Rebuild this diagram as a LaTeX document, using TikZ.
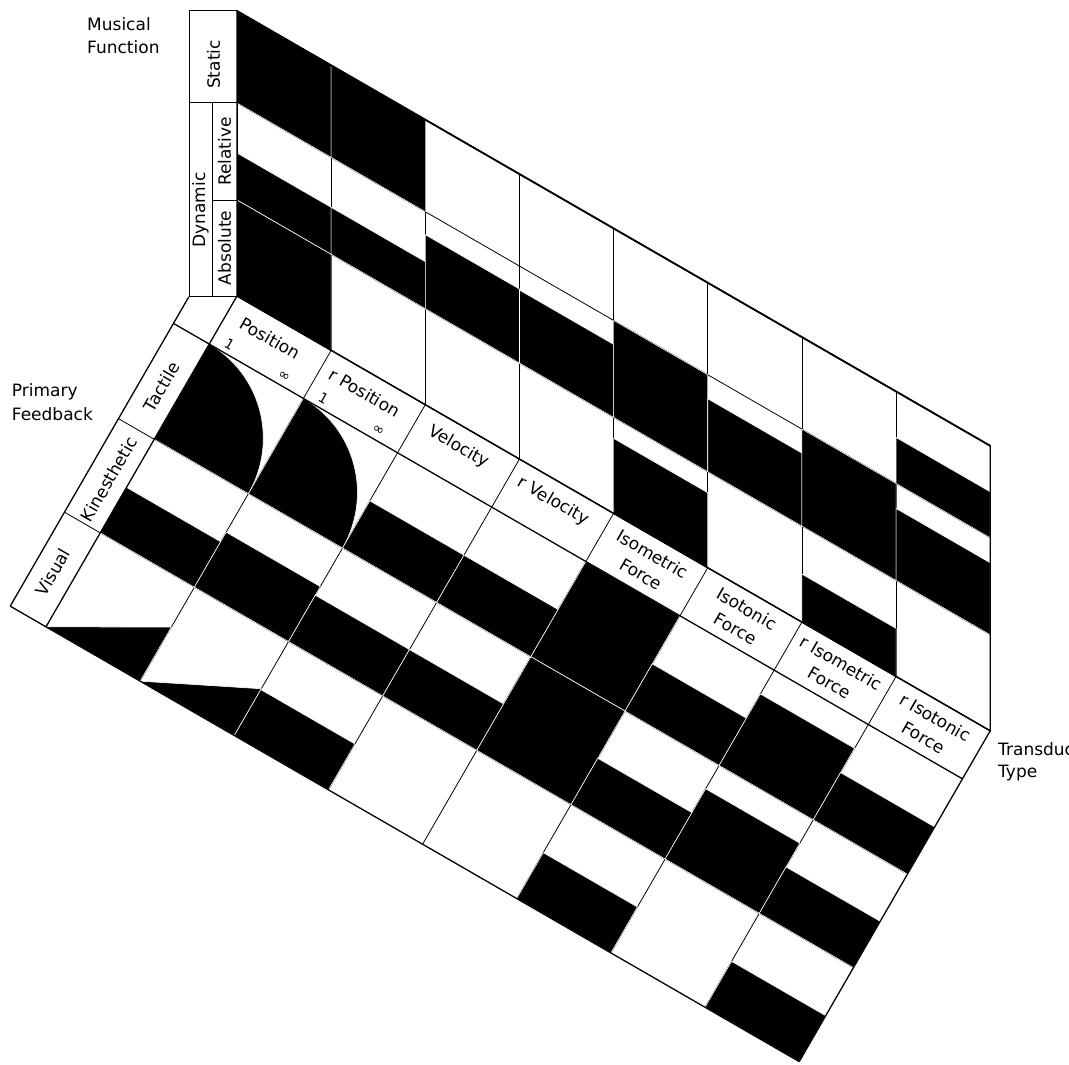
\documentclass[tikz,border=0pt]{standalone}
\usepackage{fontspec}
\setmainfont{DejaVu Sans}
\begin{document}
\begin{tikzpicture}[x=1pt,y=-1pt,
  gridline/.style={line width=0.8pt},
  frameline/.style={line width=1.3pt, line join=miter},
  boxline/.style={line width=1pt},
  blk/.style={fill=black, draw=white, line width=0.6pt},
  lbl/.style={font=\fontsize{17}{23}\selectfont, inner sep=0pt},
  tiny/.style={font=\fontsize{14}{16}\selectfont, inner sep=0pt},
]
\useasboundingbox (0,0) rectangle (1069,1065);
\clip (0,0) rectangle (1069,1065);
\fill[white] (0,0) rectangle (1069,1065);

% ---------------- wall (musical function) ----------------
\begin{scope}[shift={(237pt,-11pt)}, x={(94.15pt,-54.35pt)}, y={(0pt,-1pt)}]
  \foreach \ka in {1,...,7} \draw[gridline] (\ka,0) -- (\ka,285);
  \draw[gridline] (0,92) -- (8,92);
  \draw[gridline] (0,189) -- (8,189);
  \foreach \ka/\kb/\kc in {0/0/92, 0/142/189, 0/189/285,
                           1/0/92, 1/142/189,
                           2/115/189, 3/116/189,
                           4/92/189, 4/210/285,
                           5/116/189,
                           6/92/189, 6/237/285,
                           7/46/92, 7/117/189}
    \path[blk] (\ka,\kb) -- ({\ka+1},\kb) -- ({\ka+1},\kc) -- (\ka,\kc) -- cycle;
  \draw[frameline] (0,0) -- (8,0) -- (8,285) -- (0,285) -- cycle;
  \draw[line width=1.8pt] (0,0) -- (8,0);
\end{scope}

% wall label column
\draw[boxline] (189,11) rectangle (237,296);
\draw[boxline] (189,103) -- (237,103);
\draw[boxline] (212,103) -- (212,296);
\draw[boxline] (212,200) -- (237,200);

% ---------------- floor (primary feedback) ----------------
\begin{scope}[shift={(237pt,-296pt)}, x={(94.15pt,-54.35pt)}, y={(-0.5pt,-0.866pt)}]
  \foreach \ka in {1,...,7} \draw[gridline] (\ka,0) -- (\ka,382);
  \draw[gridline] (-0.38,165.5) -- (8,165.5);
  \draw[gridline] (-0.38,273.5) -- (8,273.5);
  % quarter discs (Position, r Position / Tactile)
  \foreach \ka in {0,1}
    \path[blk] (\ka,165.5) -- (\ka,55.5)
      -- plot[variable=\t, domain=0:90, samples=45] ({\ka+sin(\t)},{165.5-110*cos(\t)})
      -- cycle;
  % triangles (Visual)
  \path[blk] (0,382) -- (1,319.6) -- (1,382) -- cycle;
  \path[blk] (1,382) -- (2,328) -- (2,382) -- cycle;
  % bands
  \foreach \ka/\kb/\kc in {0/221/273.5, 1/210/273.5,
                           2/111/165.5, 2/220/273.5, 2/329/382,
                           3/111/165.5, 3/220/273.5,
                           4/55.5/165.5, 4/165.5/273.5,
                           5/111/165.5, 5/220/273.5, 5/329/382,
                           6/83/165.5, 6/192.5/273.5,
                           7/111/165.5, 7/220/273.5, 7/329/382}
    \path[blk] (\ka,\kb) -- ({\ka+1},\kb) -- ({\ka+1},\kc) -- (\ka,\kc) -- cycle;
  % frame
  \draw[frameline] (0,0) -- (0,382);
  \draw[frameline] (8,0) -- (8,382);
  \draw[frameline] (-0.38,55.5) -- (8,55.5);
  \draw[frameline] (-0.38,382) -- (8,382);
  \draw[frameline] (-0.38,24.8) -- (-0.38,382);
  \draw[frameline] (0,0) -- (8,0);
\end{scope}

% ---------------- texts ----------------
\node[lbl, anchor=base west] (mf1) at (87,30.7) {Musical};
\node[lbl, anchor=base west] (mf2) at (87,54) {Function};
\node[lbl, anchor=base west] (pf1) at (11.7,396.7) {Primary};
\node[lbl, anchor=base west] (pf2) at (11.7,420) {Feedback};
\node[lbl, anchor=base west] (tt1) at (998,755) {Transducer};
\node[lbl, anchor=base west] (tt2) at (998,777.5) {Type};

\node[lbl, rotate=90] (st) at (213.5,64.5) {Static};
\node[lbl, rotate=90] (dy) at (200.5,210) {Dynamic};
\node[lbl, rotate=90] (re) at (224.5,151.5) {Relative};
\node[lbl, rotate=90] (ab) at (224.5,248) {Absolute};

\node[lbl, rotate=60] (ta) at (161.7,386.7) {Tactile};
\node[lbl, rotate=60] (ki) at (109,479) {Kinesthetic};
\node[lbl, rotate=60] (vi) at (53,572) {Visual};

\node[lbl, rotate=-30] (t1) at (270.4,338.3) {Position};
\node[lbl, rotate=-30] (t2) at (364.5,392.6) {r Position};
\node[lbl, rotate=-30] (t3) at (458.7,447) {Velocity};
\node[lbl, rotate=-30] (t4) at (552.9,501.4) {r Velocity};
\node[lbl, rotate=-30, align=center] (t5) at (647,564.2) {Isometric\\Force};
\node[lbl, rotate=-30, align=center] (t6) at (741.2,618.6) {Isotonic\\Force};
\node[lbl, rotate=-30, align=center] (t7) at (835.3,672.9) {r Isometric\\Force};
\node[lbl, rotate=-30, align=center] (t8) at (929.5,727.3) {r Isotonic\\Force};

\node[tiny, rotate=-30] (o1) at (229.5,344.5) {1};
\node[tiny, rotate=-30] (i1) at (284,376) {∞};
\node[tiny, rotate=-30] (o2) at (323.6,398.8) {1};
\node[tiny, rotate=-30] (i2) at (378.2,430.3) {∞};
\end{tikzpicture}
\end{document}
